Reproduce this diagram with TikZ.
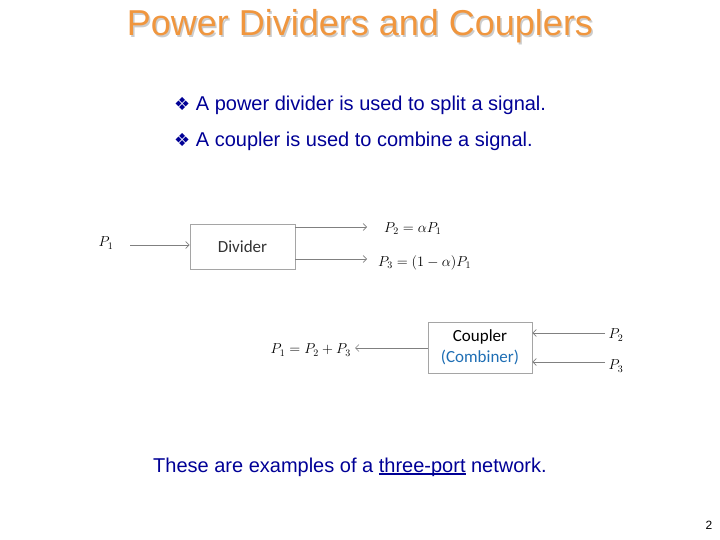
\documentclass[tikz,border=0pt]{standalone}
\usepackage{fontspec}
\setmainfont{Liberation Sans}
\newfontfamily\symfont{DejaVu Sans}
\newfontfamily\boxfont{Carlito}
\usetikzlibrary{arrows.meta}
\definecolor{titleorange}{RGB}{240,150,62}
\definecolor{textblue}{RGB}{0,0,150}
\definecolor{combblue}{RGB}{30,110,180}
\definecolor{wiregray}{RGB}{128,128,128}
\definecolor{boxgray}{RGB}{165,165,165}
\newcommand\thickul[1]{\setbox0\hbox{#1}\rlap{\rule[-3pt]{\wd0}{1.6pt}}\box0\relax}
\begin{document}
\begin{tikzpicture}[x=1pt, y=-1pt,
  blockbox/.style={draw=boxgray, line width=0.8pt, inner sep=0pt, font=\boxfont\fontsize{17}{20}\selectfont},
  sig/.style={draw=wiregray, line width=0.7pt, -{Straight Barb[length=3.5pt, width=7pt]}},
  lbl/.style={inner sep=0pt, font=\fontsize{14.5}{17}\selectfont},
  bullet/.style={anchor=base west, inner sep=0pt, text=textblue, font=\fontsize{20}{24}\selectfont}]
  \useasboundingbox (0,0) rectangle (720,540);
  % 제목 (그림자 포함)
  \node[anchor=base, inner sep=0pt, text=black!20, font=\fontsize{36}{40}\selectfont] at (361.5,37.5) {Power Dividers and Couplers};
  \node[anchor=base, inner sep=0pt, text=titleorange, font=\fontsize{36}{40}\selectfont] (title) at (360,36) {Power Dividers and Couplers};
  \node[bullet] (b1) at (174,111) {{\symfont\fontsize{18}{20}\selectfont ❖}\ A power divider is used to split a signal.};
  \node[bullet] (b2) at (174,147) {{\symfont\fontsize{18}{20}\selectfont ❖}\ A coupler is used to combine a signal.};
  % 분배기
  \node[blockbox, minimum width=105pt, minimum height=45pt, text=black!80] (div) at (242.5,246.5) {Divider};
  \coordinate (inP1) at (130,245);
  \coordinate (outP2) at (367,227);
  \coordinate (outP3) at (367,259);
  \draw[sig] (inP1) -- (inP1 -| div.west);
  \draw[sig] (div.east |- outP2) -- (outP2);
  \draw[sig] (div.east |- outP3) -- (outP3);
  \node[lbl] (lblP1) at (106,243) {$P_1$};
  \node[lbl, anchor=west] (lblP2) at (384,229) {$P_2=\alpha P_1$};
  \node[lbl, anchor=west] (lblP3) at (378,263) {$P_3=\bigl(1-\alpha\bigr)P_1$};
  % 결합기
  \node[blockbox, minimum width=104pt, minimum height=51pt, align=center] (coup) at (480,347.5)
    {Coupler\\[1pt]\textcolor{combblue}{(Combiner)}};
  \coordinate (inC2) at (605,333);
  \coordinate (inC3) at (605,362);
  \coordinate (outC1) at (355,348);
  \draw[sig] (inC2) -- (inC2 -| coup.east);
  \draw[sig] (inC3) -- (inC3 -| coup.east);
  \draw[sig] (coup.west |- outC1) -- (outC1);
  \node[lbl] (lblC2) at (616,335) {$P_2$};
  \node[lbl] (lblC3) at (616,366) {$P_3$};
  \node[lbl, anchor=east] (lblC1) at (351,350) {$P_1=P_2+P_3$};
  % 아래 문장과 쪽 번호
  \node[bullet] (note) at (153,472) {These are examples of a \thickul{three-port} network.};
  \node[inner sep=0pt, font=\fontsize{12}{14}\selectfont] (page) at (709,525) {2};
\end{tikzpicture}
\end{document}
